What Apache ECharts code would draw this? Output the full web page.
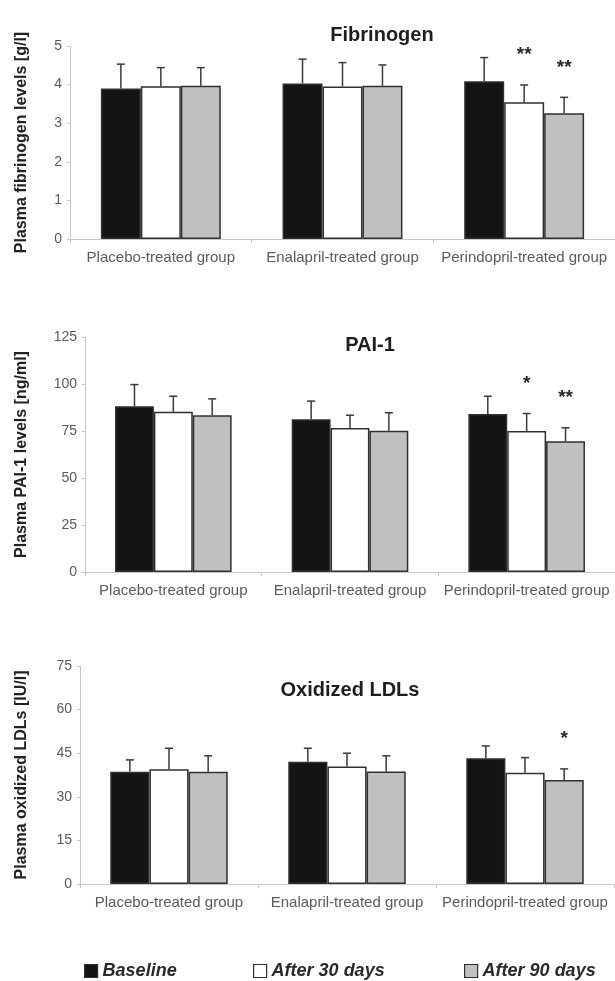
<!DOCTYPE html>
<html><head><meta charset="utf-8">
<script src="https://cdn.jsdelivr.net/npm/echarts@6/dist/echarts.min.js"></script>
<style>html,body{margin:0;padding:0;background:#fff}#c{width:615px;height:981px}</style>
</head><body><div id="c"></div>
<script>
const categories = ['Placebo-treated group', 'Enalapril-treated group', 'Perindopril-treated group'];
const seriesNames = ['Baseline', 'After 30 days', 'After 90 days'];

// Fibrinogen [g/l]
const fibBaseline = [3.90, 4.03, 4.09];
const fib30 = [3.96, 3.95, 3.54];
const fib90 = [3.97, 3.97, 3.26];
const fibBaselineSD = [0.63, 0.63, 0.61];
const fib30SD = [0.48, 0.62, 0.45];
const fib90SD = [0.47, 0.54, 0.41];
const fibSig30 = ['', '', '**'];
const fibSig90 = ['', '', '**'];

// PAI-1 [ng/ml]
const paiBaseline = [88.2, 81.2, 84.1];
const pai30 = [85.2, 76.6, 75.0];
const pai90 = [83.4, 75.1, 69.5];
const paiBaselineSD = [11.5, 9.7, 9.4];
const pai30SD = [8.3, 6.8, 9.3];
const pai90SD = [8.7, 9.6, 7.2];
const paiSig30 = ['', '', '*'];
const paiSig90 = ['', '', '**'];

// Oxidized LDLs [IU/l]
const ldlBaseline = [38.6, 42.1, 43.3];
const ldl30 = [39.5, 40.4, 38.3];
const ldl90 = [38.6, 38.7, 35.8];
const ldlBaselineSD = [4.1, 4.6, 4.2];
const ldl30SD = [7.2, 4.6, 5.2];
const ldl90SD = [5.5, 5.4, 3.8];
const ldlSig30 = ['', '', ''];
const ldlSig90 = ['', '', '*'];

const fibAxis = [0, 5, 1];
const paiAxis = [0, 125, 25];
const ldlAxis = [0, 75, 15];

const noSig = ['', '', ''];
const panels = [
  { title: 'Fibrinogen', yName: 'Plasma fibrinogen levels [g/l]',
    means: [fibBaseline, fib30, fib90], sds: [fibBaselineSD, fib30SD, fib90SD],
    sig: [noSig, fibSig30, fibSig90], axis: fibAxis,
    grid: { left: 70, top: 46, height: 193, width: 549 }, tpos: [382, 35], nameGap: 40 },
  { title: 'PAI-1', yName: 'Plasma PAI-1 levels [ng/ml]',
    means: [paiBaseline, pai30, pai90], sds: [paiBaselineSD, pai30SD, pai90SD],
    sig: [noSig, paiSig30, paiSig90], axis: paiAxis,
    grid: { left: 85, top: 337, height: 235, width: 532 }, tpos: [370, 345], nameGap: 55 },
  { title: 'Oxidized LDLs', yName: 'Plasma oxidized LDLs [IU/l]',
    means: [ldlBaseline, ldl30, ldl90], sds: [ldlBaselineSD, ldl30SD, ldl90SD],
    sig: [noSig, ldlSig30, ldlSig90], axis: ldlAxis,
    grid: { left: 80, top: 666, height: 218, width: 534 }, tpos: [350, 690], nameGap: 50 }
];

const colors = ['#141414', '#ffffff', '#c0c0c0'];
const GAP = 0.34;
const sans = '"Liberation Sans", Arial, Helvetica, sans-serif';

const grids = [], xAxes = [], yAxes = [], series = [], graphics = [];
panels.forEach((p, i) => {
  grids.push(Object.assign({ containLabel: false }, p.grid));
  xAxes.push({
    type: 'category', gridIndex: i, data: categories,
    axisLine: { lineStyle: { color: '#c8c8c8', width: 1 } },
    axisTick: { show: true, length: 4, lineStyle: { color: '#c8c8c8' } },
    axisLabel: { interval: 0, fontSize: 15, fontFamily: sans, color: '#5a5a5a', margin: 11 }
  });
  yAxes.push({
    type: 'value', gridIndex: i, min: p.axis[0], max: p.axis[1], interval: p.axis[2],
    name: p.yName, nameLocation: 'middle', nameRotate: 90, nameGap: p.nameGap,
    nameTextStyle: { fontSize: 16, fontWeight: 'bold', fontFamily: sans, color: '#222' },
    axisLine: { show: true, lineStyle: { color: '#c8c8c8', width: 1 } },
    axisTick: { show: true, length: 3, lineStyle: { color: '#c8c8c8' } },
    splitLine: { show: false },
    axisLabel: { fontSize: 14, fontFamily: sans, color: '#5a5a5a', margin: 8 }
  });
  p.means.forEach((arr, s) => {
    series.push({
      type: 'bar', name: seriesNames[s], xAxisIndex: i, yAxisIndex: i, data: arr,
      barGap: '0%', barCategoryGap: (GAP * 100) + '%',
      itemStyle: { color: colors[s], borderColor: '#303030', borderWidth: 1.5 },
      emphasis: { disabled: true }, animation: false
    });
  });
  const errData = [];
  const sigList = [];
  p.means.forEach((arr, s) => arr.forEach((m, c) => {
    errData.push([c, s, m, p.sds[s][c]]);
    sigList.push(p.sig[s][c]);
  }));
  series.push({
    type: 'custom', xAxisIndex: i, yAxisIndex: i, data: errData, z: 5, animation: false,
    encode: { x: 0, y: 2 }, silent: true,
    renderItem: function (params, api) {
      const c = api.value(0), s = api.value(1), m = api.value(2), sd = api.value(3);
      const band = api.size([1, 0])[0];
      const bw = band * (1 - GAP) / 3;
      const x = api.coord([c, 0])[0] + (s - 1) * bw;
      const y0 = api.coord([c, m])[1];
      const y1 = api.coord([c, m + sd])[1];
      const ls = { stroke: '#3a3a3a', lineWidth: 1.5 };
      const children = [
        { type: 'line', shape: { x1: x, y1: y0, x2: x, y2: y1 }, style: ls },
        { type: 'line', shape: { x1: x - 4, y1: y1, x2: x + 4, y2: y1 }, style: ls }
      ];
      const sg = sigList[params.dataIndex];
      if (sg) {
        children.push({ type: 'text', style: {
          x: x, y: y1 - 30, text: sg, align: 'center', verticalAlign: 'middle',
          textAlign: 'center', textVerticalAlign: 'middle',
          fontSize: 19, fontWeight: 'bold', fontFamily: sans, fill: '#2a2a2a' } });
      }
      return { type: 'group', children: children };
    }
  });
  graphics.push({ type: 'text', x: p.tpos[0], y: p.tpos[1], style: {
    text: p.title, align: 'center', verticalAlign: 'middle', textAlign: 'center', textVerticalAlign: 'middle',
    fontSize: 20, fontWeight: 'bold', fontFamily: sans, fill: '#1e1e1e' } });
});

const legendLefts = [84, 253, 464];
const legends = seriesNames.map((n, s) => ({
  left: legendLefts[s], top: 962, padding: 0, icon: 'rect', itemWidth: 13, itemHeight: 13, itemGap: 6,
  selectedMode: false,
  data: [{ name: n, itemStyle: { color: colors[s], borderColor: '#303030', borderWidth: 1.2 } }],
  textStyle: { fontSize: 18, fontWeight: 'bold', fontStyle: 'italic', fontFamily: sans, color: '#2a2a2a' }
}));

const chart = echarts.init(document.getElementById('c'), null, { renderer: 'canvas' });
chart.setOption({
  backgroundColor: '#ffffff', animation: false,
  grid: grids, xAxis: xAxes, yAxis: yAxes, series: series, legend: legends, graphic: graphics
});
</script></body></html>
